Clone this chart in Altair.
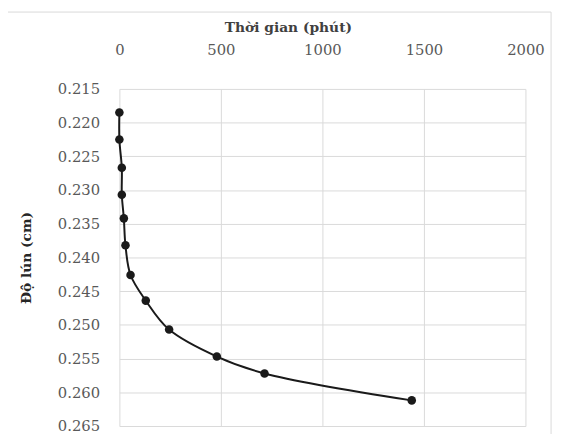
import altair as alt
import pandas as pd

time_min = [0, 0, 12, 12, 22, 30, 55, 130, 245, 480, 715, 1440]
settlement_cm = [0.2185, 0.2225, 0.2267, 0.2307, 0.2342, 0.2382, 0.2426, 0.2464, 0.2507, 0.2547, 0.2572, 0.2612]
x_ticks = [0, 500, 1000, 1500, 2000]
y_ticks = [0.215, 0.220, 0.225, 0.230, 0.235, 0.240, 0.245, 0.250, 0.255, 0.260, 0.265]

df = pd.DataFrame({"t": time_min, "s": settlement_cm, "order": list(range(len(time_min)))})

FONT = "DejaVu Serif"

x_enc = alt.X("t:Q",
              scale=alt.Scale(domain=[0, 2000], nice=False),
              axis=alt.Axis(orient="top", values=x_ticks, tickCount=len(x_ticks), format="d",
                            title="Thời gian (phút)",
                            grid=True, gridColor="#d9d9d9", domain=False, ticks=False,
                            labelFlush=False, labelOverlap=False,
                            labelPadding=32, labelFont=FONT, labelFontSize=15, labelColor="#595959",
                            titleFont=FONT, titleFontSize=14, titleFontWeight="bold", titleColor="#404040",
                            titlePadding=8, titleX=171))
y_enc = alt.Y("s:Q",
              scale=alt.Scale(domain=[0.215, 0.265], reverse=True, nice=False, zero=False),
              axis=alt.Axis(values=y_ticks, tickCount=len(y_ticks), format=".3f", title="Độ lún (cm)",
                            grid=True, gridColor="#d9d9d9", domain=False, ticks=False,
                            labelFlush=False, labelOverlap=False,
                            labelPadding=20, labelFont=FONT, labelFontSize=15, labelColor="#595959",
                            titleFont=FONT, titleFontSize=14, titleFontWeight="bold", titleColor="#262626",
                            titlePadding=24))

base = alt.Chart(df)
line = base.mark_line(interpolate="catmull-rom", color="#1a1a1a", strokeWidth=2).encode(
    x=x_enc, y=y_enc, order="order:Q")
pts = base.mark_circle(size=75, color="#1a1a1a", opacity=1).encode(x="t:Q", y="s:Q")

border = alt.Chart(pd.DataFrame({"a": [0]})).mark_rect(
    fill=None, stroke="#d9d9d9", strokeWidth=1).encode(
    x=alt.value(-116), x2=alt.value(438), y=alt.value(-78), y2=alt.value(353))

chart = alt.layer(border, line, pts).properties(
    width=412, height=342,
    autosize=alt.AutoSizeParams(type="none"),
    padding={"left": 113, "top": 79, "right": 31, "bottom": 5},
).configure_view(stroke=None)

chart.save("out.html", embed_options={"renderer": "svg", "actions": False})
